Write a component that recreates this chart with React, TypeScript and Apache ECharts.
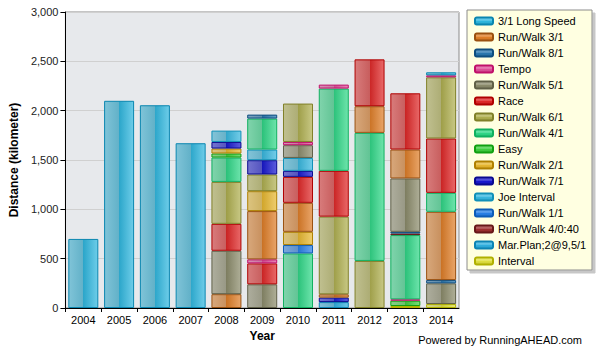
import React, { useEffect, useRef } from "react";
import * as echarts from "echarts";

const years = ["2004", "2005", "2006", "2007", "2008", "2009", "2010", "2011", "2012", "2013", "2014"];

const workoutTypes = [
  "3/1 Long Speed",
  "Run/Walk 3/1",
  "Run/Walk 8/1",
  "Tempo",
  "Run/Walk 5/1",
  "Race",
  "Run/Walk 6/1",
  "Run/Walk 4/1",
  "Easy",
  "Run/Walk 2/1",
  "Run/Walk 7/1",
  "Joe Interval",
  "Run/Walk 1/1",
  "Run/Walk 4/0:40",
  "Mar.Plan;2@9,5/1",
  "Interval",
];

const yTicks = [0, 500, 1000, 1500, 2000, 2500, 3000];

// segments of each year's bar, bottom to top: [workout type, km]
const seg2004: [string, number][] = [["3/1 Long Speed", 700]];
const seg2005: [string, number][] = [["3/1 Long Speed", 2100]];
const seg2006: [string, number][] = [["3/1 Long Speed", 2055]];
const seg2007: [string, number][] = [["3/1 Long Speed", 1670]];
const seg2008: [string, number][] = [
  ["Run/Walk 3/1", 140], ["Run/Walk 5/1", 440], ["Race", 273], ["Run/Walk 6/1", 425],
  ["Run/Walk 4/1", 247], ["Easy", 41], ["Run/Walk 2/1", 50], ["Run/Walk 7/1", 67], ["Joe Interval", 115],
];
const seg2009: [string, number][] = [
  ["Run/Walk 5/1", 240], ["Race", 212], ["Tempo", 41], ["Run/Walk 3/1", 489], ["Run/Walk 2/1", 202],
  ["Run/Walk 6/1", 169], ["Run/Walk 7/1", 145], ["Joe Interval", 108], ["Run/Walk 4/1", 314], ["Run/Walk 8/1", 40],
];
const seg2010: [string, number][] = [
  ["Run/Walk 4/1", 553], ["Run/Walk 1/1", 85], ["Run/Walk 2/1", 134], ["Run/Walk 3/1", 294], ["Race", 263],
  ["Run/Walk 7/1", 61], ["Joe Interval", 131], ["Run/Walk 5/1", 129], ["Tempo", 33], ["Run/Walk 6/1", 389],
];
const seg2011: [string, number][] = [
  ["Mar.Plan;2@9,5/1", 60], ["Run/Walk 7/1", 45], ["Run/Walk 3/1", 34], ["Run/Walk 6/1", 787],
  ["Race", 464], ["Run/Walk 4/1", 834], ["Tempo", 40],
];
const seg2012: [string, number][] = [
  ["Run/Walk 6/1", 477], ["Run/Walk 4/1", 1298], ["Run/Walk 3/1", 270], ["Race", 475],
];
const seg2013: [string, number][] = [
  ["Interval", 20], ["Easy", 54], ["Tempo", 14], ["Run/Walk 4/1", 651], ["Run/Walk 4/0:40", 16],
  ["Run/Walk 8/1", 17], ["Run/Walk 5/1", 541], ["Run/Walk 3/1", 293], ["Race", 570],
];
const seg2014: [string, number][] = [
  ["Interval", 40], ["Run/Walk 5/1", 210], ["Run/Walk 8/1", 33], ["Run/Walk 3/1", 692], ["Run/Walk 4/1", 192],
  ["Race", 551], ["Run/Walk 6/1", 620], ["Tempo", 20], ["3/1 Long Speed", 31],
];

const yearSegments = [seg2004, seg2005, seg2006, seg2007, seg2008, seg2009, seg2010, seg2011, seg2012, seg2013, seg2014];

// styles: [base colour, border colour]
const typeColors: Record<string, [string, string]> = {
  "3/1 Long Speed": ["#30b8e0", "#0a86b0"],
  "Run/Walk 3/1": ["#e07f28", "#9a5010"],
  "Run/Walk 8/1": ["#2a78b0", "#0e4e80"],
  "Tempo": ["#e0509a", "#c0106a"],
  "Run/Walk 5/1": ["#8c8c6c", "#606048"],
  "Race": ["#e02828", "#b00000"],
  "Run/Walk 6/1": ["#b0b050", "#808028"],
  "Run/Walk 4/1": ["#30d888", "#10b060"],
  "Easy": ["#40d040", "#10a010"],
  "Run/Walk 2/1": ["#e8b830", "#b08000"],
  "Run/Walk 7/1": ["#1818d0", "#0a0a90"],
  "Joe Interval": ["#38b8e0", "#1090b8"],
  "Run/Walk 1/1": ["#2880e8", "#0c5cb8"],
  "Run/Walk 4/0:40": ["#a03030", "#681818"],
  "Mar.Plan;2@9,5/1": ["#30b0e0", "#0c84b4"],
  "Interval": ["#e0e040", "#b0b000"],
};

function hexToRgb(h: string): number[] {
  const n = parseInt(h.slice(1), 16);
  return [(n >> 16) & 255, (n >> 8) & 255, n & 255];
}
function mix(a: string, b: string, t: number): string {
  const x = hexToRgb(a);
  const y = hexToRgb(b);
  const c = x.map((v, i) => Math.round(v * (1 - t) + y[i] * t));
  return `rgb(${c[0]},${c[1]},${c[2]})`;
}

function barStyle(type: string) {
  const [base, border] = typeColors[type];
  return {
    color: {
      type: "linear", x: 0, y: 0, x2: 1, y2: 0,
      colorStops: [
        { offset: 0, color: mix(base, "#d0d0d0", 0.5) },
        { offset: 0.5, color: mix(base, "#a8a8a8", 0.42) },
        { offset: 0.5, color: mix(base, "#000000", 0.1) },
        { offset: 1, color: mix(base, "#ffffff", 0.3) },
      ],
    },
    borderColor: border,
    borderWidth: 1,
  };
}

function legendStyle(type: string) {
  const [base, border] = typeColors[type];
  return {
    color: {
      type: "linear", x: 0, y: 0, x2: 0, y2: 1,
      colorStops: [
        { offset: 0, color: mix(base, "#ffffff", 0.35) },
        { offset: 0.5, color: mix(base, "#ffffff", 0.15) },
        { offset: 0.5, color: base },
        { offset: 1, color: mix(base, "#000000", 0.1) },
      ],
    },
    borderColor: border,
    borderWidth: 1,
  };
}

const FONT = "'Liberation Sans', Arial, sans-serif";

export default function App() {
  const ref = useRef<HTMLDivElement>(null);
  useEffect(() => {
    if (!ref.current) return;
    const chart = echarts.init(ref.current, null, { renderer: "svg" });
    const maxLayers = Math.max(...yearSegments.map((s) => s.length));
    const layerSeries: any[] = [];
    for (let k = 0; k < maxLayers; k++) {
      layerSeries.push({
        type: "bar",
        name: "layer" + k,
        stack: "km",
        barWidth: 30,
        silent: true,
        data: yearSegments.map((s) =>
          s[k] ? { value: s[k][1], itemStyle: barStyle(s[k][0]) } : "-"
        ),
      });
    }
    const legendSeries = workoutTypes.map((t) => ({
      type: "bar",
      name: t,
      stack: "km",
      barWidth: 30,
      data: [],
      itemStyle: legendStyle(t),
    }));
    chart.setOption({
      animation: false,
      backgroundColor: "#ffffff",
      textStyle: { fontFamily: FONT },
      grid: {
        left: 65, right: 141, top: 12, bottom: 42,
        show: true, backgroundColor: "#e7e9ec", borderColor: "#8a8a8a", borderWidth: 1,
      },
      legend: {
        data: workoutTypes,
        orient: "vertical",
        left: 474,
        top: 14,
        itemWidth: 18,
        itemHeight: 7,
        itemGap: 2,
        icon: "roundRect",
        selectedMode: false,
        padding: 0,
        z: 10,
        textStyle: { fontSize: 11, color: "#000", lineHeight: 14, fontFamily: FONT },
      },
      graphic: [
        {
          type: "rect",
          z: 1,
          shape: { x: 467, y: 10, width: 125, height: 260 },
          style: {
            fill: "#ffffe1", stroke: "#8c8c8c", lineWidth: 1,
            shadowColor: "rgba(0,0,0,0.22)", shadowOffsetX: 3, shadowOffsetY: 3, shadowBlur: 0,
          },
        },
        {
          type: "text",
          right: 18,
          bottom: 5,
          style: { text: "Powered by RunningAHEAD.com", fontSize: 11, fill: "#000", fontFamily: FONT },
        },
      ],
      xAxis: {
        type: "category",
        data: years,
        name: "Year",
        nameLocation: "middle",
        nameGap: 19,
        nameTextStyle: { fontSize: 12, fontWeight: "bold", color: "#000" },
        axisLine: { lineStyle: { color: "#000" } },
        axisTick: { show: true, length: 4, lineStyle: { color: "#000" } },
        axisLabel: { fontSize: 11, color: "#000", margin: 6 },
      },
      yAxis: {
        type: "value",
        min: yTicks[0],
        max: yTicks[yTicks.length - 1],
        interval: 500,
        name: "Distance (kilometer)",
        nameLocation: "middle",
        nameRotate: 90,
        nameGap: 35,
        nameTextStyle: { fontSize: 12, fontWeight: "bold", color: "#000" },
        axisLine: { show: true, lineStyle: { color: "#000" } },
        axisTick: { show: true, length: 5, lineStyle: { color: "#000" } },
        axisLabel: {
          fontSize: 11, color: "#222", margin: 7,
          formatter: (v: number) => String(v).replace(/\B(?=(\d{3})+(?!\d))/g, ","),
        },
        splitLine: { lineStyle: { color: "#d0d0d0" } },
      },
      series: [...layerSeries, ...legendSeries],
    });
    return () => chart.dispose();
  }, []);
  return (
    <div
      ref={ref}
      style={{ position: "fixed", left: 0, top: 0, width: 600, height: 350 }}
    />
  );
}
